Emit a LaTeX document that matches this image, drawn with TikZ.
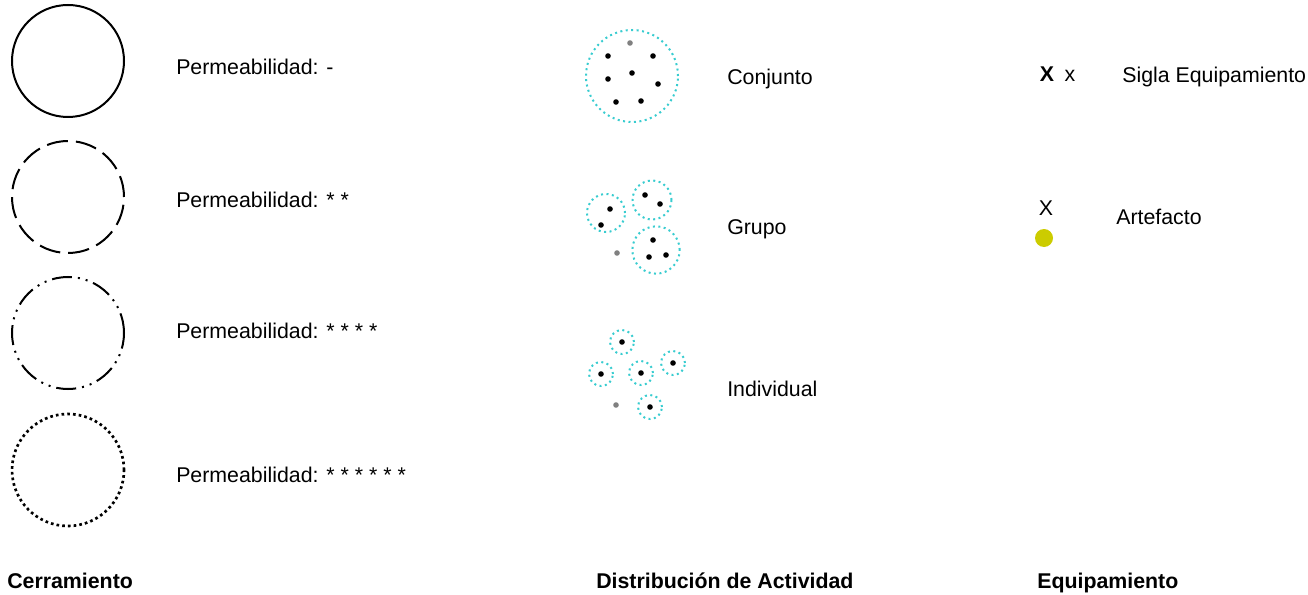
\documentclass[tikz,border=0pt]{standalone}
\usepackage{fontspec}
\setmainfont{Liberation Sans}
\definecolor{turquesa}{RGB}{56,204,208}
\definecolor{amarillo}{RGB}{204,204,0}
\begin{document}
\begin{tikzpicture}[x=0.75pt,y=-0.75pt,
  every node/.style={font=\fontsize{16}{19}\selectfont, anchor=base west, inner sep=0pt},
  borde/.style={circle, draw, line width=1.5pt, minimum size=84pt, anchor=center},
  cerco/.style={circle, draw=turquesa, line width=1.5pt, dash pattern=on 1.5pt off 2.6pt, anchor=center},
  punto/.style={circle, fill, minimum size=4.2pt, anchor=center},
  gris/.style={punto, fill=gray}]
  \useasboundingbox (0,0) rectangle (1308,595);
  \node[borde] (c1) at (68,61){};
  \node[borde, dash pattern=on 16pt off 6pt] (c2) at (68,197){};
  \node[borde, dash pattern=on 15pt off 4.5pt on 1.5pt off 4.5pt on 1.5pt off 4.5pt] (c3) at (68,333){};
  \node[borde, line width=2pt, dash pattern=on 2pt off 2.3pt] (c4) at (68,470){};
  \node (t1) at (176,75){Permeabilidad: -};
  \node (t2) at (176,208){Permeabilidad: * *};
  \node (t3) at (176,338){Permeabilidad: * * * *};
  \node (t4) at (176,482){Permeabilidad: * * * * * *};
  \node[font=\fontsize{16}{19}\selectfont\bfseries] (cerr) at (7,588){Cerramiento};

  \node[cerco, minimum size=69pt] (conj) at (632,76){};
  \node[gris] at (630,43){};
  \foreach \x/\y in {608/56, 653/56, 608/79, 632/73, 658/84, 616/102, 641/101}
    \node[punto] at (\x,\y){};
  \node (tconj) at (727,85){Conjunto};

  \node[cerco, minimum size=28.5pt] (ga) at (606,213){};
  \node[cerco, minimum size=29.25pt] (gb) at (652,200){};
  \node[cerco, minimum size=35.5pt] (gc) at (656,250){};
  \node[gris] at (617,253){};
  \foreach \x/\y in {610/209, 601/225, 645/195, 660/204, 653/240, 649/257, 666/255}
    \node[punto] at (\x,\y){};
  \node (tgrup) at (727,234){Grupo};

  \foreach \x/\y [count=\i] in {622/342, 601/374, 641/373, 673/363, 650/407}{
    \node[cerco, minimum size=18pt] (i\i) at (\x,\y){};
    \node[punto] at (i\i){};
  }
  \node[gris] at (616,405){};
  \node (tind) at (727,396){Individual};
  \node[font=\fontsize{16}{19}\selectfont\bfseries] (dist) at (596,588){Distribución de Actividad};

  \node[font=\fontsize{16}{19}\selectfont\bfseries, anchor=base] (sx) at (1047,82){X};
  \node[anchor=base] (sx2) at (1070,82){x};
  \node (tsig) at (1122,83){Sigla Equipamiento};
  \node[anchor=base] (ax) at (1046,215){X};
  \node[circle, fill=amarillo, minimum size=13.5pt, anchor=center] (art) at (1044,238){};
  \node (tart) at (1116,224){Artefacto};
  \node[font=\fontsize{16}{19}\selectfont\bfseries] (equi) at (1037,588){Equipamiento};
\end{tikzpicture}
\end{document}
